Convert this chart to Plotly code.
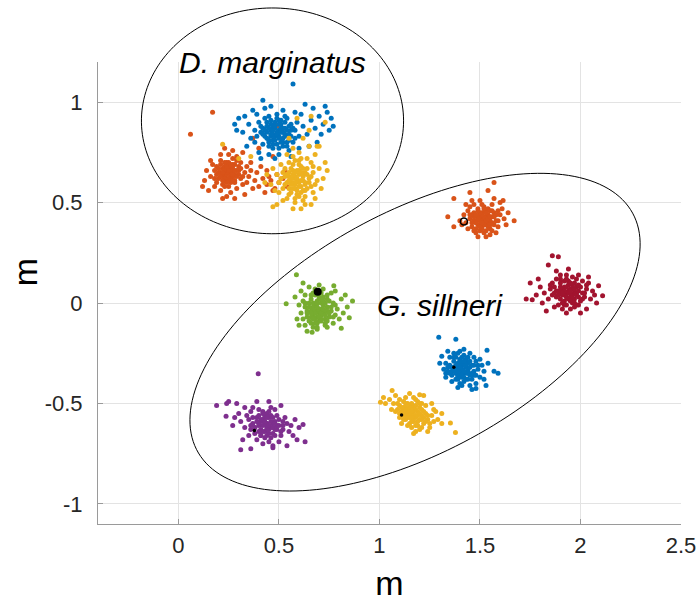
import math
import numpy as np
import plotly.graph_objects as go

# MATLAB default colour order
C_BLUE = "#0072BD"
C_ORANGE = "#D95319"
C_YELLOW = "#EDB120"
C_PURPLE = "#7E2F8E"
C_GREEN = "#77AC30"
C_RED = "#A2142F"

X_RANGE = [-0.4, 2.5]
Y_RANGE = [-1.1, 1.2]
X_TICKS = [0, 0.5, 1, 1.5, 2, 2.5]
X_TICK_TEXT = ["0", "0.5", "1", "1.5", "2", "2.5"]
Y_TICKS = [-1, -0.5, 0, 0.5, 1]
Y_TICK_TEXT = ["-1", "-0.5", "0", "0.5", "1"]

# ---- D. marginatus clusters (x, y in m) ----
marg_orange = [
    (0.25,0.65),(0.22,0.67),(0.27,0.63),(0.24,0.70),(0.29,0.66),(0.20,0.62),(0.26,0.60),(0.23,0.64),(0.28,0.69),(0.31,0.62),
    (0.18,0.66),(0.21,0.71),(0.25,0.58),(0.27,0.72),(0.30,0.68),(0.33,0.65),(0.19,0.60),(0.24,0.62),(0.26,0.67),(0.22,0.59),
    (0.28,0.61),(0.23,0.68),(0.17,0.69),(0.32,0.59),(0.25,0.74),(0.20,0.65),(0.29,0.57),(0.35,0.63),(0.21,0.56),(0.27,0.66),
    (0.24,0.66),(0.26,0.63),(0.23,0.61),(0.28,0.64),(0.22,0.63),(0.25,0.68),(0.30,0.64),(0.19,0.68),(0.16,0.63),(0.34,0.60),
    (0.36,0.66),(0.26,0.55),(0.31,0.70),(0.18,0.58),(0.24,0.53),(0.14,0.66),(0.38,0.61),(0.40,0.58),(0.42,0.62),(0.44,0.59),
    (0.46,0.61),(0.48,0.57),(0.45,0.63),(0.50,0.60),(0.47,0.56),(0.52,0.62),(0.39,0.65),(0.43,0.55),(0.37,0.57),(0.29,0.73),
    (0.21,0.74),(0.16,0.71),(0.13,0.61),(0.33,0.54),(0.28,0.52),(0.06,0.84),(0.17,0.95),(0.12,0.58),(0.36,0.70),(0.41,0.68),
    (0.49,0.64),(0.53,0.66),(0.47,0.73),(0.44,0.66),(0.54,0.58),(0.22,0.52),(0.27,0.76),(0.23,0.77),(0.32,0.75),(0.15,0.56),
    (0.49,0.88),(0.37,0.82),(0.40,0.77),(0.26,0.64),(0.24,0.64),(0.21,0.65),(0.27,0.69),(0.23,0.58),
    (0.24,0.65),(0.26,0.66),(0.23,0.66),(0.27,0.64),(0.25,0.62),(0.22,0.65),(0.28,0.66),(0.24,0.68),(0.26,0.61),(0.21,0.63),
    (0.29,0.63),(0.25,0.70),(0.23,0.62),(0.27,0.68),(0.20,0.67),(0.30,0.66),(0.24,0.60),(0.26,0.69),(0.22,0.61),(0.28,0.60),
    (0.19,0.64),(0.31,0.67),(0.25,0.66),(0.23,0.70),(0.27,0.61),(0.32,0.63),(0.21,0.69),(0.29,0.71),(0.18,0.62),(0.34,0.68),
]
marg_blue = [
    (0.47,0.84),(0.50,0.86),(0.44,0.88),(0.52,0.82),(0.48,0.90),(0.45,0.81),(0.53,0.87),(0.41,0.85),(0.49,0.79),(0.55,0.84),
    (0.46,0.86),(0.51,0.89),(0.43,0.83),(0.57,0.80),(0.40,0.90),(0.54,0.92),(0.47,0.77),(0.50,0.83),(0.45,0.93),(0.58,0.86),
    (0.38,0.86),(0.52,0.78),(0.48,0.87),(0.42,0.79),(0.56,0.89),(0.49,0.94),(0.44,0.85),(0.51,0.80),(0.46,0.89),(0.53,0.84),
    (0.36,0.82),(0.60,0.83),(0.39,0.94),(0.55,0.76),(0.43,0.97),(0.59,0.90),(0.35,0.89),(0.50,0.74),(0.47,0.81),(0.54,0.80),
    (0.62,0.88),(0.64,0.84),(0.61,0.94),(0.66,0.91),(0.68,0.87),(0.70,0.93),(0.72,0.89),(0.67,0.97),(0.74,0.95),(0.71,0.84),
    (0.75,0.86),(0.69,0.80),(0.76,0.92),(0.73,0.98),(0.65,0.78),(0.32,0.85),(0.30,0.92),(0.34,0.78),(0.29,0.86),(0.37,0.96),
    (0.42,1.01),(0.57,1.09),(0.46,0.98),(0.40,0.75),(0.45,0.74),(0.58,0.95),(0.63,0.99),(0.52,0.96),(0.56,0.73),(0.48,0.72),
    (0.44,0.90),(0.49,0.85),(0.51,0.87),(0.46,0.83),(0.53,0.90),(0.42,0.87),(0.50,0.91),(0.47,0.88),(0.55,0.81),(0.45,0.78),
    (0.38,0.80),(0.33,0.93),(0.60,0.77),(0.77,0.88),(0.28,0.89),(0.41,0.72),(0.48,0.83),(0.52,0.85),(0.43,0.92),(0.56,0.86),
    (0.49,0.84),(0.51,0.85),(0.47,0.86),(0.50,0.82),(0.48,0.88),(0.52,0.87),(0.46,0.84),(0.53,0.83),(0.45,0.87),(0.50,0.89),
    (0.48,0.81),(0.54,0.86),(0.44,0.82),(0.51,0.91),(0.47,0.79),(0.55,0.88),(0.43,0.86),(0.52,0.80),(0.49,0.92),(0.56,0.83),
    (0.42,0.84),(0.46,0.91),(0.54,0.78),(0.50,0.77),(0.57,0.87),(0.41,0.88),(0.53,0.93),(0.45,0.80),(0.58,0.82),(0.39,0.83),
]
marg_yellow = [
    (0.57,0.62),(0.60,0.60),(0.55,0.65),(0.62,0.64),(0.58,0.57),(0.54,0.60),(0.61,0.68),(0.56,0.55),(0.63,0.59),(0.59,0.66),
    (0.53,0.63),(0.65,0.62),(0.57,0.69),(0.60,0.53),(0.52,0.57),(0.64,0.67),(0.58,0.63),(0.55,0.70),(0.62,0.56),(0.59,0.61),
    (0.66,0.58),(0.51,0.62),(0.56,0.59),(0.61,0.72),(0.67,0.65),(0.54,0.52),(0.63,0.53),(0.58,0.50),(0.60,0.75),(0.69,0.61),
    (0.50,0.60),(0.57,0.66),(0.62,0.61),(0.55,0.63),(0.60,0.64),(0.64,0.57),(0.53,0.67),(0.58,0.59),(0.66,0.70),(0.70,0.67),
    (0.72,0.62),(0.71,0.57),(0.73,0.70),(0.68,0.74),(0.65,0.78),(0.70,0.78),(0.63,0.49),(0.61,0.47),(0.57,0.47),(0.52,0.51),
    (0.47,0.48),(0.49,0.49),(0.48,0.56),(0.46,0.59),(0.49,0.64),(0.51,0.69),(0.54,0.74),(0.57,0.77),(0.59,0.92),(0.65,0.86),
    (0.69,0.78),(0.62,0.82),(0.55,0.82),(0.73,0.90),(0.66,0.93),(0.22,0.79),(0.30,0.72),(0.36,0.73),(0.43,0.60),(0.68,0.52),
    (0.66,0.49),(0.74,0.66),(0.59,0.56),(0.56,0.62),(0.61,0.58),(0.63,0.65),(0.55,0.57),(0.52,0.65),(0.60,0.69),(0.64,0.72),
    (0.50,0.55),(0.58,0.71),(0.67,0.55),(0.44,0.64),(0.47,0.67),
    (0.59,0.62),(0.58,0.60),(0.61,0.61),(0.57,0.64),(0.60,0.58),(0.62,0.63),(0.56,0.60),(0.60,0.66),(0.63,0.60),(0.58,0.65),
    (0.61,0.55),(0.55,0.61),(0.64,0.64),(0.57,0.57),(0.62,0.67),(0.59,0.54),(0.54,0.64),(0.65,0.60),(0.56,0.67),(0.63,0.56),
    (0.60,0.71),(0.53,0.59),(0.66,0.63),(0.58,0.52),(0.61,0.65),(0.67,0.68),(0.55,0.54),(0.62,0.51),(0.68,0.59),(0.57,0.73),
]

# ---- G. sillneri clusters ----
sill_orange = [
    (1.52,0.42),(1.50,0.44),(1.54,0.40),(1.48,0.41),(1.53,0.46),(1.51,0.38),(1.56,0.43),(1.47,0.45),(1.55,0.37),(1.49,0.39),
    (1.52,0.48),(1.58,0.41),(1.45,0.42),(1.50,0.36),(1.57,0.45),(1.46,0.38),(1.54,0.44),(1.51,0.41),(1.49,0.47),(1.53,0.39),
    (1.59,0.38),(1.44,0.46),(1.56,0.49),(1.48,0.35),(1.60,0.44),(1.47,0.49),(1.55,0.34),(1.52,0.35),(1.43,0.40),(1.61,0.47),
    (1.50,0.42),(1.53,0.43),(1.49,0.43),(1.55,0.41),(1.51,0.45),(1.46,0.44),(1.57,0.39),(1.54,0.47),(1.48,0.37),(1.52,0.40),
    (1.62,0.42),(1.60,0.50),(1.45,0.48),(1.42,0.44),(1.58,0.35),(1.46,0.51),(1.63,0.39),(1.50,0.51),(1.44,0.37),(1.57,0.52),
    (1.57,0.60),(1.45,0.55),(1.54,0.56),(1.37,0.52),(1.34,0.43),(1.37,0.38),(1.67,0.41),(1.615,0.51),(1.41,0.39),(1.40,0.41),
    (1.53,0.33),(1.49,0.33),(1.59,0.46),(1.56,0.36),(1.47,0.41),(1.51,0.49),(1.64,0.45),(1.43,0.49),(1.55,0.46),(1.50,0.39),
    (1.51,0.42),(1.52,0.43),(1.50,0.41),(1.53,0.41),(1.51,0.44),(1.54,0.42),(1.49,0.42),(1.52,0.39),(1.50,0.45),(1.55,0.43),
    (1.48,0.40),(1.53,0.45),(1.51,0.37),(1.56,0.40),(1.47,0.43),(1.54,0.38),(1.49,0.46),(1.57,0.43),(1.46,0.40),(1.52,0.47),
    (1.50,0.38),(1.55,0.39),(1.48,0.44),(1.58,0.44),(1.53,0.36),(1.45,0.44),(1.56,0.46),(1.51,0.40),(1.59,0.41),(1.47,0.36),
]
sill_red = [
    (1.93,0.05),(1.95,0.03),(1.91,0.07),(1.97,0.05),(1.90,0.02),(1.94,0.09),(1.96,0.00),(1.89,0.06),(1.99,0.03),(1.92,0.01),
    (1.98,0.08),(1.88,0.03),(1.94,0.06),(1.96,0.04),(1.91,0.04),(2.01,0.05),(1.87,0.08),(1.93,-0.01),(1.97,0.10),(1.95,0.07),
    (2.00,0.01),(1.90,0.10),(1.86,0.04),(2.03,0.07),(1.92,0.11),(1.99,-0.01),(1.85,0.07),(1.94,0.02),(1.96,0.07),(1.92,0.04),
    (2.02,0.03),(1.89,-0.01),(1.98,0.12),(1.84,0.02),(2.04,0.10),(1.95,-0.03),(1.88,0.12),(2.05,0.02),(1.91,-0.03),(1.86,0.10),
    (1.93,0.14),(1.97,-0.02),(1.82,0.05),(2.06,0.06),(1.90,0.14),(2.01,0.11),(1.80,0.08),(1.99,0.14),(1.87,-0.02),(2.07,0.04),
    (1.86,0.235),(1.89,0.23),(1.84,0.19),(1.94,0.17),(1.73,0.02),(1.76,0.017),(1.83,-0.04),(2.11,0.036),(2.09,0.086),(2.03,-0.03),
    (1.93,-0.05),(1.75,0.10),(1.79,0.12),(1.81,0.00),(2.00,-0.05),(1.96,0.13),(1.88,0.16),(2.04,0.13),(1.78,0.04),(1.97,0.02),
    (1.92,0.08),(1.95,0.05),(1.90,0.06),(1.98,0.05),(2.08,0.00),
    (1.94,0.05),(1.93,0.03),(1.95,0.06),(1.92,0.06),(1.96,0.02),(1.93,0.08),(1.97,0.07),(1.91,0.05),(1.95,0.01),(1.98,0.04),
    (1.90,0.08),(1.94,0.11),(1.99,0.06),(1.89,0.04),(1.96,0.09),(1.92,-0.01),(2.00,0.08),(1.88,0.06),(1.97,0.00),(1.93,0.12),
    (2.02,0.05),(1.87,0.05),(1.95,0.10),(1.91,0.00),(1.99,0.09),(1.90,0.12),(2.01,0.02),(1.85,0.09),(1.98,-0.01),(2.03,0.09),
]
sill_green = [
    (0.70,-0.03),(0.68,-0.01),(0.72,-0.05),(0.66,-0.04),(0.71,0.00),(0.69,-0.07),(0.74,-0.02),(0.65,0.00),(0.73,-0.08),(0.67,-0.06),
    (0.70,0.02),(0.76,-0.04),(0.63,-0.02),(0.69,-0.10),(0.75,0.01),(0.64,-0.07),(0.72,0.03),(0.68,-0.04),(0.71,-0.06),(0.66,0.02),
    (0.78,-0.06),(0.62,0.01),(0.73,-0.11),(0.67,-0.12),(0.77,0.00),(0.61,-0.05),(0.74,0.04),(0.70,-0.09),(0.65,-0.09),(0.79,-0.03),
    (0.69,0.01),(0.71,-0.03),(0.67,-0.02),(0.73,-0.04),(0.68,-0.08),(0.72,-0.01),(0.70,-0.05),(0.64,-0.04),(0.75,-0.07),(0.66,-0.10),
    (0.80,-0.08),(0.60,-0.01),(0.63,0.04),(0.67,0.05),(0.72,0.07),(0.76,0.05),(0.81,0.02),(0.78,0.06),(0.61,0.06),(0.65,0.08),
    (0.69,-0.13),(0.74,-0.12),(0.63,-0.11),(0.77,-0.10),(0.82,-0.05),(0.59,-0.08),(0.587,0.141),(0.536,-0.004),(0.81,-0.125),(0.85,-0.073),
    (0.665,-0.146),(0.773,0.086),(0.866,0.01),(0.58,0.03),(0.62,0.10),(0.70,0.09),(0.83,0.04),(0.60,-0.11),(0.64,-0.14),(0.84,-0.02),
    (0.71,0.05),(0.68,0.04),(0.74,-0.09),(0.66,-0.07),(0.73,0.00),(0.69,-0.04),(0.71,-0.08),(0.67,0.00),
    (0.70,-0.04),(0.69,-0.02),(0.71,-0.05),(0.68,-0.05),(0.72,-0.03),(0.70,-0.07),(0.67,-0.03),(0.73,-0.06),(0.69,0.00),(0.71,-0.09),
    (0.66,-0.05),(0.74,-0.04),(0.68,-0.10),(0.72,0.01),(0.65,-0.02),(0.75,-0.05),(0.70,0.03),(0.67,-0.08),(0.73,-0.10),(0.64,-0.05),
    (0.76,-0.02),(0.69,-0.12),(0.71,0.02),(0.63,0.00),(0.77,-0.07),(0.66,0.04),(0.74,0.02),(0.62,-0.08),(0.78,-0.01),(0.68,0.07),
]
sill_blue = [
    (1.40,-0.33),(1.42,-0.31),(1.38,-0.35),(1.44,-0.34),(1.39,-0.30),(1.41,-0.37),(1.43,-0.29),(1.37,-0.32),(1.45,-0.36),(1.40,-0.28),
    (1.36,-0.36),(1.46,-0.31),(1.42,-0.39),(1.38,-0.27),(1.47,-0.34),(1.35,-0.31),(1.41,-0.34),(1.44,-0.27),(1.39,-0.38),(1.48,-0.29),
    (1.43,-0.32),(1.34,-0.34),(1.46,-0.38),(1.40,-0.36),(1.37,-0.29),(1.49,-0.33),(1.42,-0.26),(1.33,-0.30),(1.45,-0.41),(1.39,-0.33),
    (1.41,-0.30),(1.43,-0.35),(1.38,-0.32),(1.44,-0.33),(1.40,-0.31),(1.36,-0.39),(1.50,-0.37),(1.47,-0.27),(1.32,-0.33),(1.51,-0.31),
    (1.41,-0.41),(1.35,-0.27),(1.48,-0.40),(1.45,-0.25),(1.37,-0.25),(1.52,-0.34),(1.33,-0.37),(1.42,-0.23),(1.39,-0.42),(1.50,-0.28),
    (1.295,-0.17),(1.38,-0.18),(1.59,-0.35),(1.57,-0.34),(1.53,-0.41),(1.48,-0.425),(1.31,-0.265),(1.535,-0.235),(1.30,-0.30),(1.54,-0.30),
    (1.34,-0.24),(1.46,-0.43),(1.40,-0.24),(1.52,-0.38),(1.43,-0.38),(1.36,-0.34),(1.47,-0.36),(1.44,-0.30),(1.41,-0.35),(1.39,-0.36),
    (1.41,-0.33),(1.40,-0.32),(1.42,-0.34),(1.39,-0.34),(1.43,-0.31),(1.41,-0.36),(1.38,-0.31),(1.44,-0.35),(1.40,-0.29),(1.42,-0.37),
    (1.37,-0.34),(1.45,-0.32),(1.39,-0.37),(1.43,-0.28),(1.36,-0.32),(1.46,-0.35),(1.41,-0.27),(1.38,-0.38),(1.44,-0.38),(1.35,-0.35),
    (1.47,-0.31),(1.40,-0.40),(1.42,-0.29),(1.34,-0.32),(1.48,-0.36),(1.37,-0.27),(1.45,-0.29),(1.33,-0.35),(1.49,-0.31),(1.39,-0.25),
]
sill_yellow = [
    (1.16,-0.55),(1.14,-0.53),(1.18,-0.56),(1.12,-0.52),(1.20,-0.58),(1.15,-0.57),(1.17,-0.52),(1.13,-0.55),(1.19,-0.54),(1.10,-0.51),
    (1.21,-0.56),(1.16,-0.59),(1.11,-0.54),(1.22,-0.60),(1.14,-0.50),(1.18,-0.61),(1.09,-0.53),(1.23,-0.55),(1.15,-0.54),(1.17,-0.57),
    (1.12,-0.49),(1.20,-0.52),(1.24,-0.58),(1.07,-0.50),(1.13,-0.58),(1.19,-0.49),(1.25,-0.62),(1.16,-0.62),(1.08,-0.54),(1.21,-0.50),
    (1.14,-0.56),(1.18,-0.53),(1.16,-0.51),(1.12,-0.56),(1.19,-0.59),(1.15,-0.52),(1.22,-0.57),(1.10,-0.48),(1.26,-0.56),(1.05,-0.48),
    (1.13,-0.47),(1.17,-0.47),(1.23,-0.51),(1.27,-0.59),(1.20,-0.63),(1.11,-0.60),(1.06,-0.53),(1.28,-0.54),(1.24,-0.64),(1.18,-0.64),
    (1.063,-0.436),(1.005,-0.494),(1.378,-0.644),(1.353,-0.597),(1.31,-0.60),(1.17,-0.65),(1.22,-0.46),(1.20,-0.456),(1.31,-0.55),(1.03,-0.50),
    (1.08,-0.46),(1.29,-0.58),(1.26,-0.50),(1.14,-0.61),(1.02,-0.47),(1.10,-0.57),(1.15,-0.45),(1.27,-0.53),(1.21,-0.53),(1.17,-0.54),
    (1.13,-0.52),
    (1.16,-0.54),(1.15,-0.55),(1.17,-0.56),(1.14,-0.54),(1.18,-0.57),(1.16,-0.57),(1.13,-0.53),(1.19,-0.56),(1.15,-0.52),(1.17,-0.59),
    (1.12,-0.54),(1.20,-0.55),(1.14,-0.57),(1.18,-0.51),(1.11,-0.52),(1.21,-0.58),(1.16,-0.50),(1.19,-0.61),(1.13,-0.50),(1.22,-0.54),
    (1.10,-0.55),(1.23,-0.59),(1.15,-0.60),(1.20,-0.50),(1.09,-0.50),(1.24,-0.56),(1.12,-0.58),(1.25,-0.60),(1.18,-0.48),(1.21,-0.62),
]
sill_purple = [
    (0.44,-0.60),(0.42,-0.58),(0.46,-0.62),(0.40,-0.61),(0.45,-0.57),(0.43,-0.64),(0.48,-0.59),(0.39,-0.57),(0.47,-0.65),(0.41,-0.63),
    (0.50,-0.61),(0.37,-0.60),(0.44,-0.55),(0.46,-0.67),(0.42,-0.54),(0.52,-0.63),(0.38,-0.65),(0.49,-0.56),(0.35,-0.58),(0.45,-0.69),
    (0.43,-0.60),(0.47,-0.60),(0.41,-0.59),(0.45,-0.63),(0.40,-0.56),(0.54,-0.60),(0.36,-0.54),(0.51,-0.66),(0.33,-0.62),(0.48,-0.53),
    (0.39,-0.68),(0.55,-0.64),(0.42,-0.70),(0.34,-0.56),(0.50,-0.69),(0.37,-0.52),(0.53,-0.57),(0.31,-0.59),(0.46,-0.52),(0.56,-0.61),
    (0.44,-0.66),(0.40,-0.53),(0.48,-0.63),(0.38,-0.62),(0.43,-0.57),(0.52,-0.59),(0.35,-0.66),(0.47,-0.71),(0.57,-0.66),(0.30,-0.55),
    (0.33,-0.52),(0.29,-0.50),(0.58,-0.58),(0.60,-0.62),(0.32,-0.68),(0.397,-0.352),(0.19,-0.51),(0.24,-0.50),(0.25,-0.49),(0.237,-0.564),
    (0.31,-0.73),(0.36,-0.725),(0.63,-0.69),(0.62,-0.605),(0.47,-0.72),(0.28,-0.57),(0.59,-0.68),(0.54,-0.71),(0.39,-0.49),(0.45,-0.49),
    (0.51,-0.51),(0.27,-0.61),(0.41,-0.66),(0.49,-0.61),(0.44,-0.62),(0.36,-0.63),
    (0.44,-0.60),(0.43,-0.59),(0.45,-0.61),(0.42,-0.61),(0.46,-0.59),(0.44,-0.63),(0.41,-0.58),(0.47,-0.62),(0.43,-0.56),(0.45,-0.65),
    (0.40,-0.60),(0.48,-0.60),(0.42,-0.64),(0.46,-0.56),(0.39,-0.59),(0.49,-0.63),(0.44,-0.57),(0.41,-0.66),(0.47,-0.57),(0.38,-0.62),
    (0.50,-0.58),(0.43,-0.67),(0.45,-0.54),(0.37,-0.57),(0.51,-0.64),(0.40,-0.64),(0.48,-0.66),(0.36,-0.61),(0.52,-0.61),(0.42,-0.55),
]

# Reference positions marked in black
ref_filled_x = [0.693]
ref_filled_y = [0.056]
ref_open_x = [1.42]
ref_open_y = [0.406]
ref_small_x = [1.11, 0.378, 1.37]
ref_small_y = [-0.557, -0.635, -0.32]

# Group ellipses: centre x, centre y, semi-axis a, semi-axis b, rotation (deg)
ellipse_marginatus = (0.468, 0.907, 0.652, 0.562, 0.0)
ellipse_sillneri = (1.177, -0.145, 1.234, 0.597, 28.7)

clusters = [
    (marg_orange, C_ORANGE),
    (marg_blue, C_BLUE),
    (marg_yellow, C_YELLOW),
    (sill_orange, C_ORANGE),
    (sill_red, C_RED),
    (sill_green, C_GREEN),
    (sill_blue, C_BLUE),
    (sill_yellow, C_YELLOW),
    (sill_purple, C_PURPLE),
]

fig = go.Figure()
for pts, col in clusters:
    xs, ys = zip(*pts)
    fig.add_trace(go.Scatter(
        x=xs, y=ys, mode="markers",
        marker=dict(size=5, color=col, line=dict(width=0)),
        hoverinfo="skip", showlegend=False,
    ))

fig.add_trace(go.Scatter(x=ref_small_x, y=ref_small_y, mode="markers",
                         marker=dict(size=3.5, color="black"),
                         hoverinfo="skip", showlegend=False))
fig.add_trace(go.Scatter(x=ref_open_x, y=ref_open_y, mode="markers",
                         marker=dict(size=7, color="rgba(0,0,0,0)", line=dict(width=1.5, color="black")),
                         hoverinfo="skip", showlegend=False))
fig.add_trace(go.Scatter(x=ref_filled_x, y=ref_filled_y, mode="markers",
                         marker=dict(size=8, color="black"),
                         hoverinfo="skip", showlegend=False))


def ellipse_path(cx, cy, a, b, deg, n=180):
    """Closed SVG path of a rotated ellipse, expressed in paper coordinates
    so that the outline may run past the axes box without being clipped."""
    th = math.radians(deg)
    t = np.linspace(0, 2 * math.pi, n)
    x = cx + a * np.cos(t) * math.cos(th) - b * np.sin(t) * math.sin(th)
    y = cy + a * np.cos(t) * math.sin(th) + b * np.sin(t) * math.cos(th)
    px = (x - X_RANGE[0]) / (X_RANGE[1] - X_RANGE[0])
    py = (y - Y_RANGE[0]) / (Y_RANGE[1] - Y_RANGE[0])
    segs = [f"{'M' if i == 0 else 'L'}{px[i]:.5f},{py[i]:.5f}" for i in range(n)]
    return " ".join(segs) + " Z"


for e in (ellipse_marginatus, ellipse_sillneri):
    fig.add_shape(type="path", path=ellipse_path(*e), xref="paper", yref="paper",
                  line=dict(color="black", width=1), fillcolor="rgba(0,0,0,0)",
                  layer="above")

fig.add_annotation(x=0.468, y=1.20, xref="x", yref="y", text="<i>D. marginatus</i>",
                   showarrow=False, font=dict(size=30, color="black"),
                   xanchor="center", yanchor="middle")
fig.add_annotation(x=1.303, y=-0.01, xref="x", yref="y", text="<i>G. sillneri</i>",
                   showarrow=False, font=dict(size=30, color="black"),
                   xanchor="center", yanchor="middle")

# y-axis label, sitting a little above the middle of the axis
fig.add_annotation(x=-0.125, y=0.545, xref="paper", yref="paper", text="m",
                   showarrow=False, textangle=-90, font=dict(size=34, color="black"),
                   xanchor="center", yanchor="middle")

axis_common = dict(
    showgrid=True, gridcolor="#e3e3e3", gridwidth=1,
    zeroline=False, showline=True, linecolor="#9a9a9a", linewidth=1,
    ticks="inside", ticklen=5, tickcolor="#9a9a9a",
    tickfont=dict(size=22, color="#262626"),
    fixedrange=True, automargin=False,
)

fig.update_xaxes(range=X_RANGE, tickvals=X_TICKS, ticktext=X_TICK_TEXT,
                 title=dict(text="m", font=dict(size=34, color="black"), standoff=14),
                 ticklabelstandoff=2, **axis_common)
fig.update_yaxes(range=Y_RANGE, tickvals=Y_TICKS, ticktext=Y_TICK_TEXT,
                 ticklabelstandoff=10, **axis_common)

fig.update_layout(
    width=698, height=602,
    margin=dict(l=98, r=17, t=62, b=78),
    paper_bgcolor="white", plot_bgcolor="white",
    font=dict(family="Liberation Sans, Arial, sans-serif"),
    showlegend=False,
)

fig.write_html("out.html", config={"displayModeBar": False})
